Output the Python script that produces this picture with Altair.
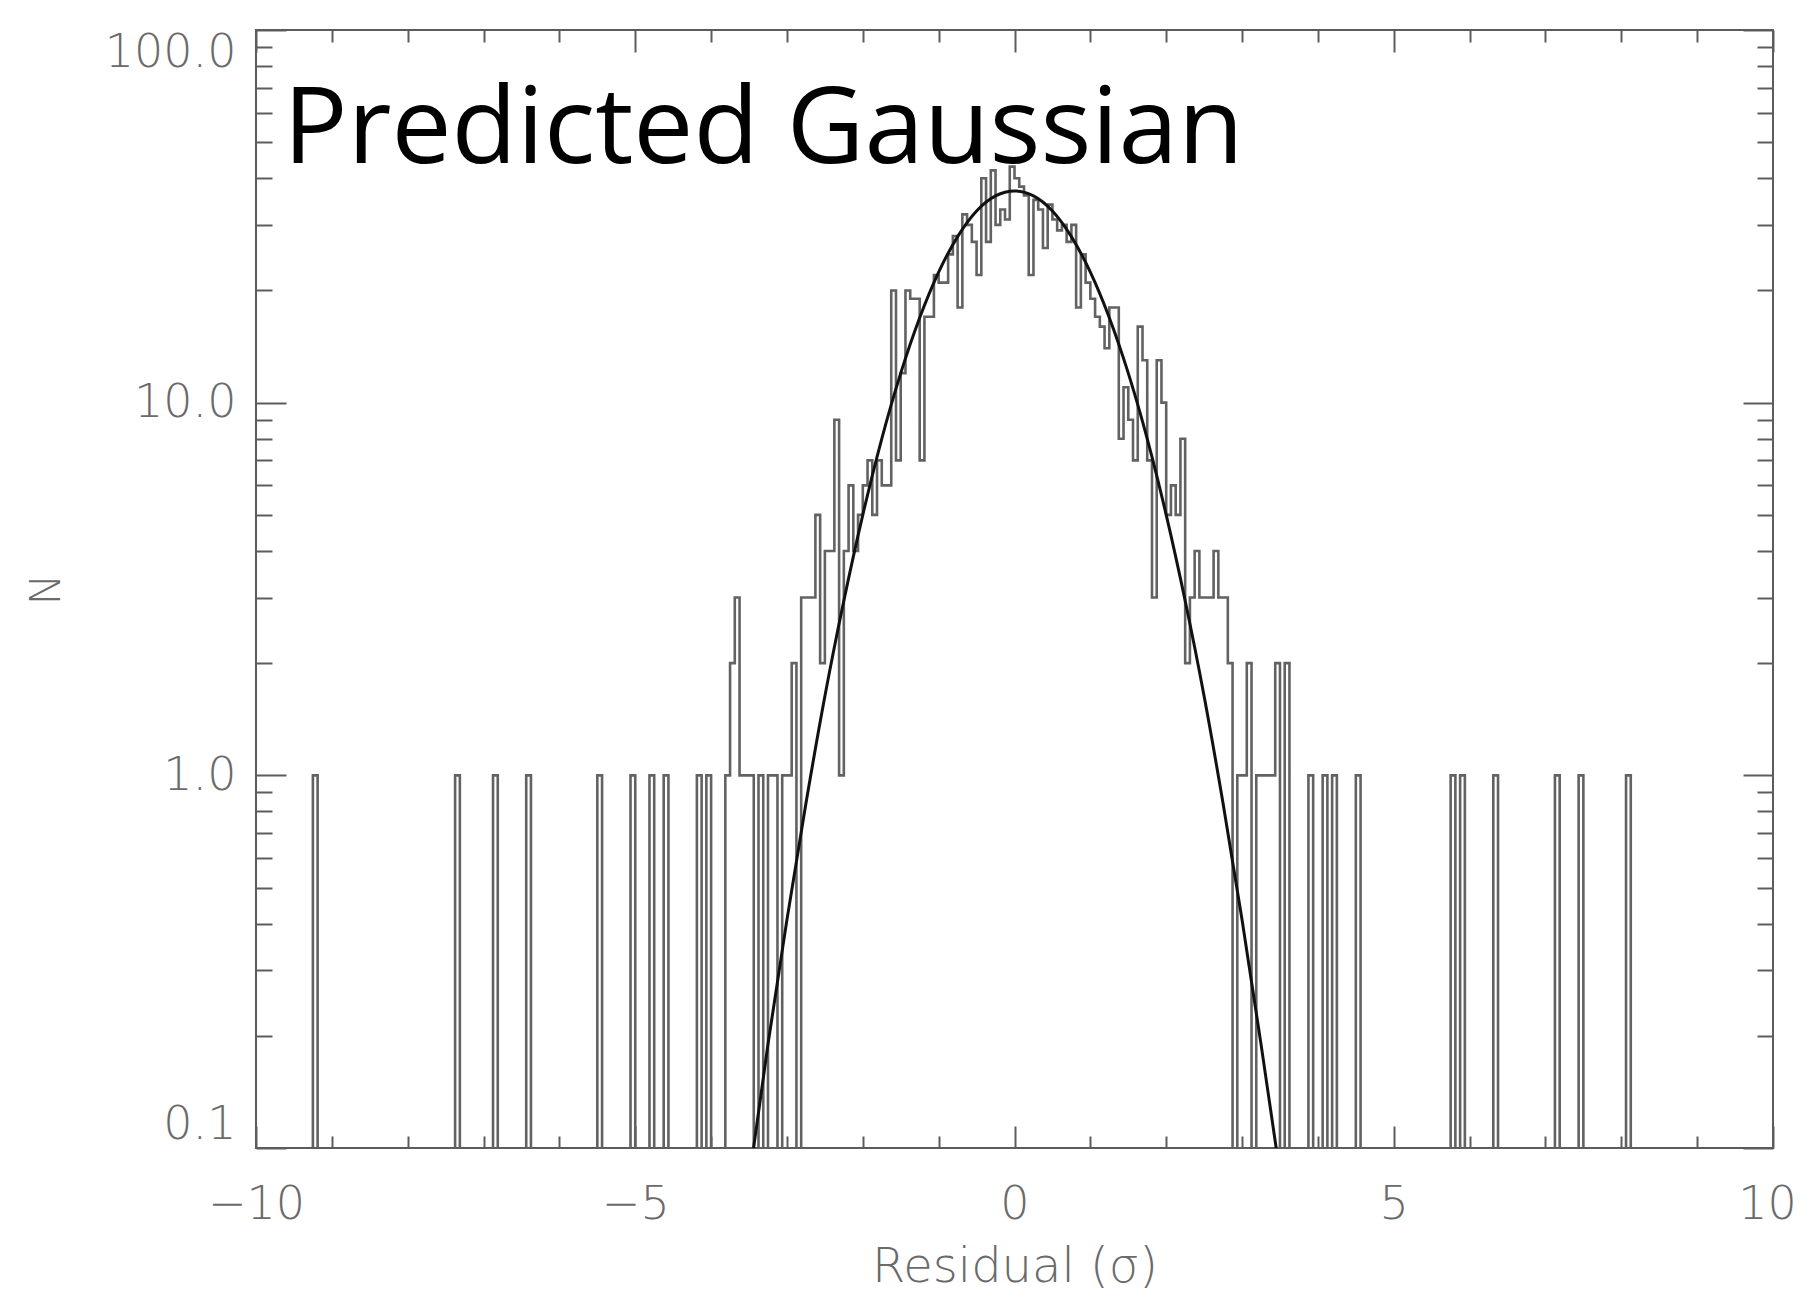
import altair as alt
import numpy as np
import pandas as pd

# ---------------- data ----------------
BIN_WIDTH = 0.0625
X_MIN, X_MAX = -10.0, 10.0

# contiguous counts of the central part, first bin centred at -3.71875
CORE_FIRST_CENTER = -3.71875
CORE_COUNTS = [
    2, 3, 1, 1, 1, 0, 1, 0, 1, 1, 0, 1,
    1, 2, 0, 3, 3, 3, 5, 2, 4, 4, 9, 1,
    4, 6, 4, 5, 6, 7, 5, 7, 6, 6, 20, 7,
    12, 20, 19, 19, 7, 17, 17, 22, 21, 21, 25, 28,
    18, 32, 30, 27, 22, 40, 27, 42, 30, 33, 31, 43,
    40, 38, 36, 22, 35, 33, 26, 34, 31, 29, 30, 27,
    30, 18, 25, 21, 19, 17, 16, 14, 18, 18, 8, 11,
    9, 7, 16, 13, 7, 3, 13, 10, 5, 6, 5, 8,
    2, 3, 4, 3, 3, 3, 4, 3, 3, 2, 0, 1,
    1, 2, 0, 1, 1, 1, 1, 2, 0, 2, 0, 0,
]
# isolated bins holding a single residual (sigma positions)
TAIL_SPIKES = [-9.21, -7.36, -6.84, -6.42, -5.49, -5.06, -4.81, -4.62,
               -4.15, -4.03, -3.80,
               3.88, 4.07, 4.23, 4.53, 5.785, 5.88, 6.33, 7.14, 7.49, 8.09]

# predicted Gaussian
CURVE_X = [-3.44, -3.25, -3.0, -2.75, -2.5, -2.25, -2.0, -1.75, -1.5, -1.25,
           -1.0, -0.75, -0.5, -0.25, 0.0, 0.25, 0.5, 0.75, 1.0, 1.25, 1.5,
           1.75, 2.0, 2.25, 2.5, 2.75, 3.0, 3.25, 3.45]
CURVE_Y = [0.1, 0.19, 0.41, 0.84, 1.63, 2.94, 5.0, 8.0, 12.0, 16.9,
           22.4, 27.9, 32.7, 35.9, 37.0, 35.9, 32.7, 27.9, 22.4, 16.9, 12.0,
           8.0, 5.0, 2.94, 1.63, 0.84, 0.41, 0.19, 0.1]

X_MAJOR = [-10, -5, 0, 5, 10]
X_MINOR = [-9, -8, -7, -6, -4, -3, -2, -1, 1, 2, 3, 4, 6, 7, 8, 9]
Y_MAJOR = [0.1, 1, 10, 100]
Y_MINOR = [0.2, 0.3, 0.4, 0.5, 0.6, 0.7, 0.8, 0.9,
           2, 3, 4, 5, 6, 7, 8, 9,
           20, 30, 40, 50, 60, 70, 80, 90]

TEXT_LABEL = "Predicted Gaussian"
TEXT_X, TEXT_Y = -9.64, 43.9

# ---------------- tables ----------------
n_bins = int(round((X_MAX - X_MIN) / BIN_WIDTH))
centers = X_MIN + BIN_WIDTH * (np.arange(n_bins) + 0.5)
counts = np.zeros(n_bins)
for s in TAIL_SPIKES:
    counts[int(round((s - X_MIN) / BIN_WIDTH - 0.5))] = 1
k0 = int(round((CORE_FIRST_CENTER - X_MIN) / BIN_WIDTH - 0.5))
counts[k0:k0 + len(CORE_COUNTS)] = CORE_COUNTS
# empty bins fall below the axis (log scale) and are clipped
hist_df = pd.DataFrame({"x": centers, "y": np.where(counts > 0, counts, 0.01)})
curve_df = pd.DataFrame({"x": CURVE_X, "y": CURVE_Y})
text_df = pd.DataFrame({"x": [TEXT_X], "y": [TEXT_Y], "label": [TEXT_LABEL]})

# ---------------- styling ----------------
W, H = 1517, 1118
AX = "#5c5c5c"
LBL = "#6a6a6a"
FONT = "DejaVu Sans"

xs = alt.Scale(domain=[X_MIN, X_MAX], nice=False, zero=False)
ys = alt.Scale(type="log", domain=[0.1, 100], nice=False)


def tick_axis(orient, offset, values, size):
    return alt.Axis(orient=orient, offset=offset, values=values, tickSize=size,
                    ticks=True, labels=False, domain=False, grid=False,
                    tickColor=AX, tickWidth=2, title=None)


hist = alt.Chart(hist_df).mark_line(
    interpolate="step", clip=True, color="#626262", strokeWidth=2.6
).encode(
    x=alt.X("x:Q", scale=xs, axis=alt.Axis(
        orient="bottom", values=X_MAJOR, format="d", ticks=False, tickSize=0,
        domain=False, grid=False, labelFlush=False, labelFont=FONT,
        labelFontSize=46, labelColor=LBL, labelPadding=34, labelFontWeight=200,
        labelOffset={"condition": {"test": "datum.value >= 10", "value": -6},
                     "value": 0},
        title="Residual (σ)", titleFont=FONT, titleFontSize=48,
        titleFontWeight=200, titleColor=LBL, titleX=W / 2, titleY=133,
        titleAlign="center", titleBaseline="alphabetic")),
    y=alt.Y("y:Q", scale=ys, axis=alt.Axis(
        orient="left", values=Y_MAJOR, format=".1f", ticks=False, tickSize=0,
        domain=False, grid=False, labelFlush=True, labelFont=FONT,
        labelFontSize=46, labelColor=LBL, labelPadding=20, labelFontWeight=200,
        title="N", titleFont=FONT, titleFontSize=42, titleFontWeight=200,
        titleColor=LBL, titleX=-210, titleY=H / 2, titleAngle=-90,
        titleAlign="center", titleBaseline="middle")),
)

gauss = alt.Chart(curve_df).mark_line(
    interpolate="monotone", color="#111111", strokeWidth=3, clip=True
).encode(
    x=alt.X("x:Q", scale=xs, axis=tick_axis("top", -H, X_MAJOR, 22)),
    y=alt.Y("y:Q", scale=ys, axis=tick_axis("right", -W, Y_MAJOR, 30)),
)

dummy1 = alt.Chart(curve_df).mark_point(opacity=0).encode(
    x=alt.X("x:Q", scale=xs, axis=tick_axis("top", -H, X_MINOR, 12)),
    y=alt.Y("y:Q", scale=ys, axis=tick_axis("right", -W, Y_MINOR, 16)),
)

dummy2 = alt.Chart(curve_df).mark_point(opacity=0).encode(
    x=alt.X("x:Q", scale=xs, axis=tick_axis("bottom", -H, X_MAJOR, 22)),
    y=alt.Y("y:Q", scale=ys, axis=tick_axis("left", -W, Y_MAJOR, 30)),
)

label = alt.Chart(text_df).mark_text(
    font="Open Sans", fontSize=107, align="left", baseline="alphabetic",
    color="#000000"
).encode(
    x=alt.X("x:Q", scale=xs, axis=tick_axis("bottom", -H, X_MINOR, 12)),
    y=alt.Y("y:Q", scale=ys, axis=tick_axis("left", -W, Y_MINOR, 16)),
    text="label:N",
)

chart = alt.layer(hist, gauss, dummy1, dummy2, label).resolve_axis(
    x="independent", y="independent"
).properties(
    width=W, height=H,
    autosize=alt.AutoSizeParams(type="none"),
    padding={"left": 248, "top": 22, "right": 25, "bottom": 145},
    background="white",
).configure_view(stroke=AX, strokeWidth=2)

chart.save("out.html", embed_options={"renderer": "svg", "actions": False})
